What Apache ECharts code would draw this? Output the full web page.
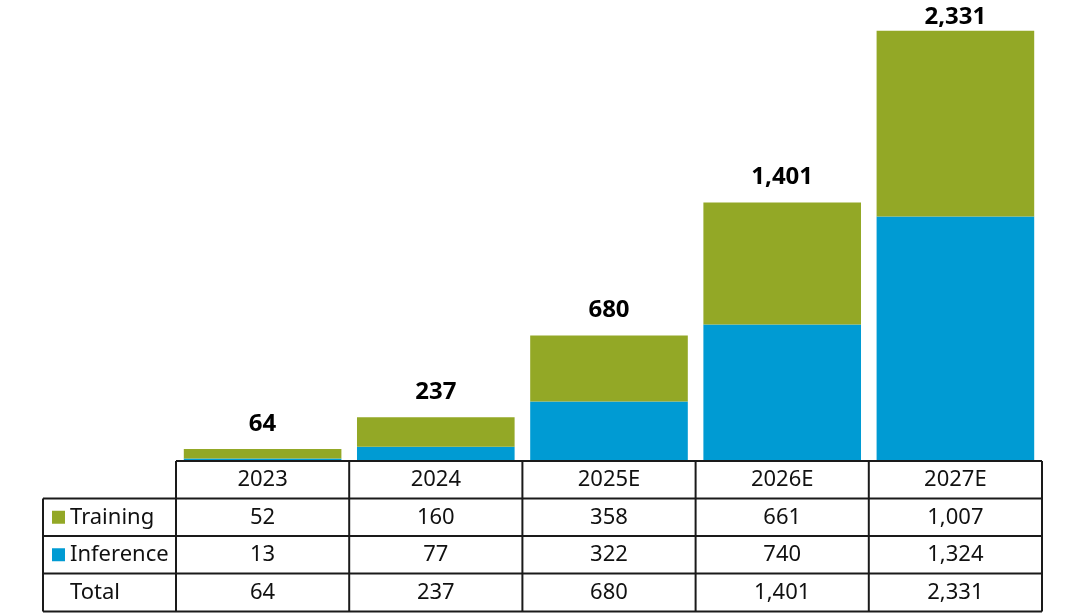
<!DOCTYPE html>
<html>
<head>
<meta charset="utf-8">
<script src="https://cdn.jsdelivr.net/npm/echarts@6/dist/echarts.min.js"></script>
<style>html,body{margin:0;padding:0;background:#fff}#c{width:1065px;height:614px}</style>
</head>
<body>
<div id="c"></div>
<script>
const categories = ['2023', '2024', '2025E', '2026E', '2027E'];
const training = [52, 160, 358, 661, 1007];
const inference = [13, 77, 322, 740, 1324];
const total = [64, 237, 680, 1401, 2331];

const GREEN = '#93A826';
const BLUE = '#009BD3';
const FONT = '"Noto Sans", "Open Sans", sans-serif';
const fmt = v => Number(v).toLocaleString('en-US');

const W = 1065, H = 614;
const gridLeft = 176, gridRight = 23, gridBottom = 153, gridTop = 18;
const axisY = H - gridBottom;          // 461
const rowH = 37.5;
const tableLeft = 43;
const lineColor = '#1a1a1a';
const TXT = 22;

const chart = echarts.init(document.getElementById('c'), null, {renderer: 'canvas'});

const rows = [
  {vals: categories, raw: true},
  {vals: training},
  {vals: inference},
  {vals: total}
];

const xAxes = rows.map((r, i) => ({
  type: 'category',
  data: categories,
  gridIndex: 0,
  position: 'bottom',
  offset: i * rowH,
  axisLine: {show: false},
  axisTick: {show: false},
  axisLabel: {
    show: true,
    interval: 0,
    margin: 19,
    verticalAlign: 'middle',
    fontFamily: FONT,
    fontSize: TXT,
    color: '#111',
    formatter: (v, idx) => r.raw ? r.vals[idx] : fmt(r.vals[idx])
  }
}));

const right = W - gridRight;
const colW = (right - gridLeft) / categories.length;
const lines = [];
const addLine = (x1, y1, x2, y2) => lines.push({
  type: 'line', silent: true, z: 100,
  shape: {x1, y1, x2, y2},
  style: {stroke: lineColor, lineWidth: 2}
});
addLine(gridLeft, axisY, right, axisY);
for (let k = 1; k <= 4; k++) {
  const y = axisY + k * rowH + (k === 4 ? 0.5 : 0);
  addLine(tableLeft, y, right, y);
}
for (let i = 0; i <= categories.length; i++) {
  const x = gridLeft + i * colW;
  addLine(x, axisY, x, axisY + 4 * rowH + 0.5);
}
addLine(tableLeft, axisY + rowH, tableLeft, axisY + 4 * rowH + 0.5);

const lastIdx = training.length - 1;

const option = {
  animation: false,
  backgroundColor: '#fff',
  grid: {left: gridLeft, right: gridRight, top: gridTop, bottom: gridBottom, containLabel: false},
  legend: {
    orient: 'vertical',
    left: 52,
    top: axisY + rowH + rowH / 2 - 11,
    padding: 0,
    itemGap: rowH - 22,
    itemWidth: 13,
    itemHeight: 13,
    icon: 'rect',
    data: ['Training', 'Inference'],
    textStyle: {fontFamily: FONT, fontSize: TXT, color: '#111', lineHeight: 22}
  },
  xAxis: xAxes,
  yAxis: {type: 'value', min: 0, max: 2400, show: false, splitLine: {show: false}},
  series: [
    {
      name: 'Inference', type: 'bar', stack: 'a', data: inference,
      barCategoryGap: '9%',
      itemStyle: {color: BLUE}
    },
    {
      name: 'Training', type: 'bar', stack: 'a',
      data: training.map((v, i) => i === lastIdx ? {value: v, label: {distance: 2}} : v),
      barCategoryGap: '9%',
      itemStyle: {color: GREEN},
      label: {
        show: true, position: 'top', distance: 13,
        fontFamily: FONT, fontSize: 24, fontWeight: 'bold', color: '#000',
        formatter: p => fmt(total[p.dataIndex])
      }
    }
  ],
  graphic: lines.concat([
    {
      type: 'text', left: 70, top: axisY + 3 * rowH + rowH / 2 - 11,
      style: {text: 'Total', fontFamily: FONT, fontSize: TXT, fill: '#111'}
    }
  ])
};
chart.setOption(option);
</script>
</body>
</html>
